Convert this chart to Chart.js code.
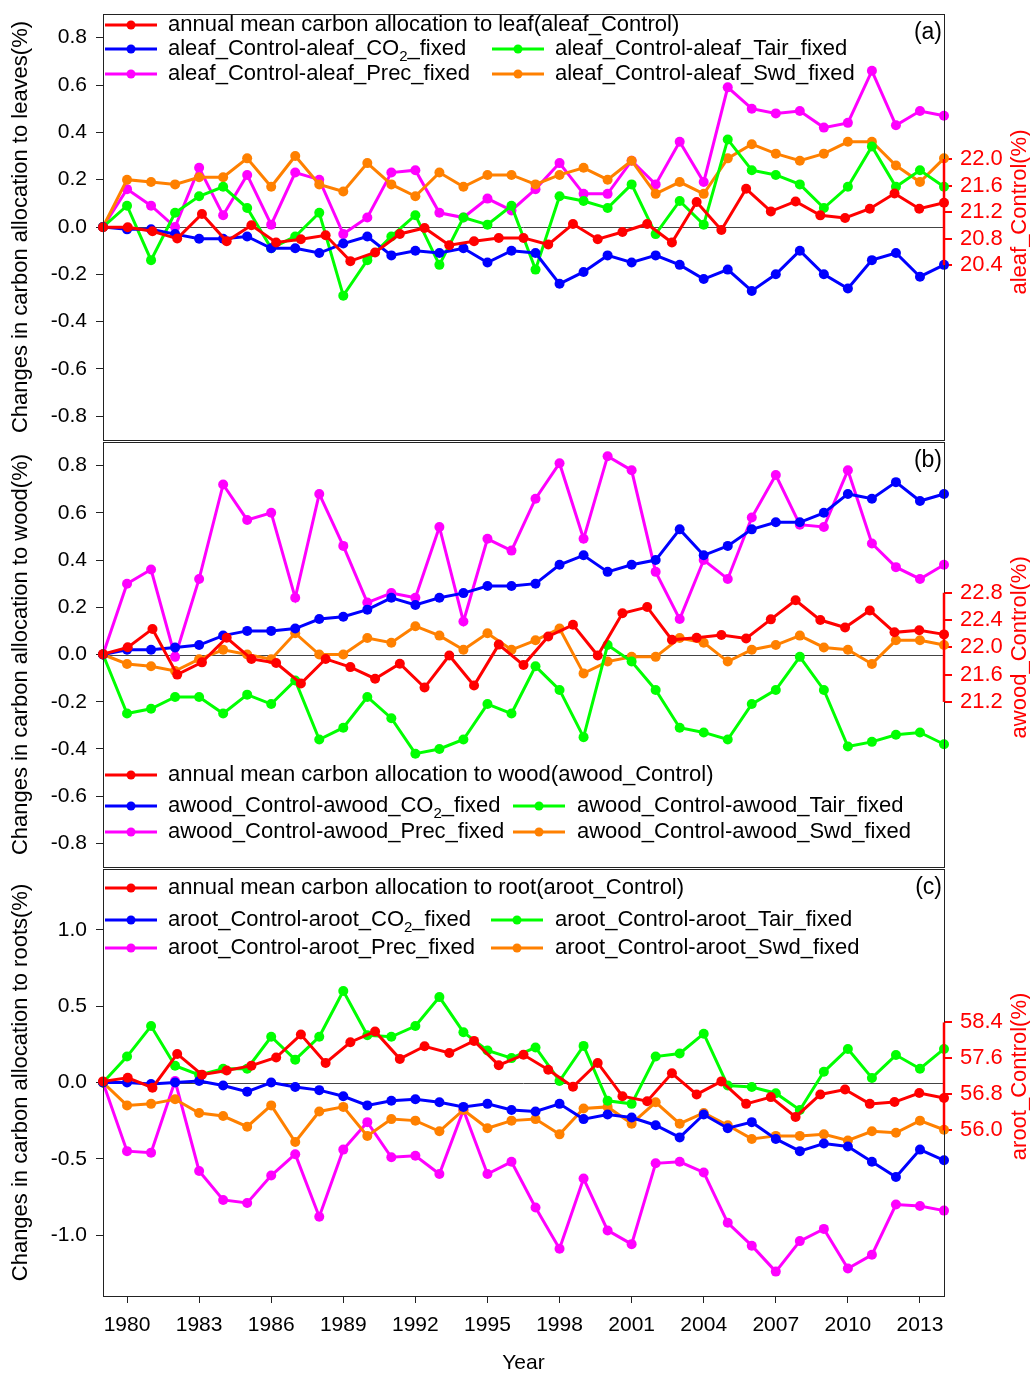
<!DOCTYPE html>
<html>
<head>
<meta charset="utf-8">
<script src="https://cdn.jsdelivr.net/npm/chart.js@4.4.1/dist/chart.umd.min.js"></script>
<style>
  html, body { margin: 0; padding: 0; background: #fff; }
  #wrap { position: relative; width: 1030px; height: 1374px; }
  canvas { position: absolute; left: 0; }
</style>
</head>
<body>
<div id="wrap">
  <canvas id="chartA" width="1030" height="445" style="top:0px"></canvas>
  <canvas id="chartB" width="1030" height="435" style="top:437px"></canvas>
  <canvas id="chartC" width="1030" height="510" style="top:864px"></canvas>
</div>
<script>
// Years: the difference series use 1979-2014, the control series has 35 values
var years = [];
for (var yy = 1979; yy <= 2014; yy++) years.push(yy);
var controlYears = [];
for (var yc = 1979; yc <= 2013; yc++) controlYears.push(yc);
var yearTicks = [1980, 1983, 1986, 1989, 1992, 1995, 1998, 2001, 2004, 2007, 2010, 2013];

// (a) leaf
var leafControl = [20.97, 20.97, 20.91, 20.80, 21.17, 20.76, 21.00, 20.74, 20.79, 20.85, 20.46, 20.59, 20.87, 20.96, 20.70, 20.76, 20.81, 20.81, 20.71, 21.02, 20.79, 20.90, 21.02, 20.74, 21.35, 20.93, 21.55, 21.21, 21.36, 21.15, 21.11, 21.25, 21.48, 21.25, 21.34];
var leafCO2 = [0, -0.01, -0.01, -0.03, -0.05, -0.05, -0.04, -0.09, -0.09, -0.11, -0.07, -0.04, -0.12, -0.10, -0.11, -0.09, -0.15, -0.10, -0.11, -0.24, -0.19, -0.12, -0.15, -0.12, -0.16, -0.22, -0.18, -0.27, -0.20, -0.10, -0.20, -0.26, -0.14, -0.11, -0.21, -0.16];
var leafTair = [0, 0.09, -0.14, 0.06, 0.13, 0.17, 0.08, -0.09, -0.04, 0.06, -0.29, -0.14, -0.04, 0.05, -0.16, 0.04, 0.01, 0.09, -0.18, 0.13, 0.11, 0.08, 0.18, -0.03, 0.11, 0.01, 0.37, 0.24, 0.22, 0.18, 0.08, 0.17, 0.34, 0.17, 0.24, 0.17];
var leafPrec = [0, 0.16, 0.09, 0.00, 0.25, 0.05, 0.22, 0.01, 0.23, 0.20, -0.03, 0.04, 0.23, 0.24, 0.06, 0.04, 0.12, 0.07, 0.16, 0.27, 0.14, 0.14, 0.28, 0.18, 0.36, 0.19, 0.59, 0.50, 0.48, 0.49, 0.42, 0.44, 0.66, 0.43, 0.49, 0.47];
var leafSwd = [0, 0.20, 0.19, 0.18, 0.21, 0.21, 0.29, 0.17, 0.30, 0.18, 0.15, 0.27, 0.18, 0.13, 0.23, 0.17, 0.22, 0.22, 0.18, 0.22, 0.25, 0.20, 0.28, 0.14, 0.19, 0.14, 0.29, 0.35, 0.31, 0.28, 0.31, 0.36, 0.36, 0.26, 0.19, 0.29];

// (b) wood
var woodControl = [21.90, 22.00, 22.27, 21.60, 21.78, 22.14, 21.83, 21.77, 21.47, 21.83, 21.71, 21.54, 21.76, 21.41, 21.88, 21.44, 22.04, 21.74, 22.16, 22.33, 21.88, 22.50, 22.59, 22.11, 22.14, 22.18, 22.13, 22.41, 22.69, 22.40, 22.29, 22.54, 22.22, 22.25, 22.19];
var woodCO2 = [0, 0.02, 0.02, 0.03, 0.04, 0.08, 0.10, 0.10, 0.11, 0.15, 0.16, 0.19, 0.24, 0.21, 0.24, 0.26, 0.29, 0.29, 0.30, 0.38, 0.42, 0.35, 0.38, 0.40, 0.53, 0.42, 0.46, 0.53, 0.56, 0.56, 0.60, 0.68, 0.66, 0.73, 0.65, 0.68];
var woodTair = [0, -0.25, -0.23, -0.18, -0.18, -0.25, -0.17, -0.21, -0.11, -0.36, -0.31, -0.18, -0.27, -0.42, -0.40, -0.36, -0.21, -0.25, -0.05, -0.15, -0.35, 0.04, -0.03, -0.15, -0.31, -0.33, -0.36, -0.21, -0.15, -0.01, -0.15, -0.39, -0.37, -0.34, -0.33, -0.38];
var woodPrec = [0, 0.30, 0.36, -0.01, 0.32, 0.72, 0.57, 0.60, 0.24, 0.68, 0.46, 0.22, 0.26, 0.24, 0.54, 0.14, 0.49, 0.44, 0.66, 0.81, 0.49, 0.84, 0.78, 0.35, 0.15, 0.40, 0.32, 0.58, 0.76, 0.55, 0.54, 0.78, 0.47, 0.37, 0.32, 0.38];
var woodSwd = [0, -0.04, -0.05, -0.07, -0.02, 0.02, 0.00, -0.02, 0.09, 0.00, 0.00, 0.07, 0.05, 0.12, 0.08, 0.02, 0.09, 0.02, 0.06, 0.11, -0.08, -0.03, -0.01, -0.01, 0.07, 0.05, -0.03, 0.02, 0.04, 0.08, 0.03, 0.02, -0.04, 0.06, 0.06, 0.04];

// (c) root
var rootControl = [57.09, 57.17, 56.95, 57.70, 57.24, 57.33, 57.44, 57.62, 58.13, 57.50, 57.96, 58.20, 57.59, 57.87, 57.72, 57.99, 57.45, 57.68, 57.35, 56.97, 57.50, 56.76, 56.65, 57.27, 56.80, 57.09, 56.59, 56.74, 56.30, 56.80, 56.91, 56.59, 56.63, 56.83, 56.72];
var rootCO2 = [0, 0.00, -0.01, 0.00, 0.01, -0.02, -0.06, 0.00, -0.03, -0.05, -0.09, -0.15, -0.12, -0.11, -0.13, -0.16, -0.14, -0.18, -0.19, -0.14, -0.24, -0.21, -0.23, -0.28, -0.36, -0.21, -0.30, -0.26, -0.37, -0.45, -0.40, -0.42, -0.52, -0.62, -0.44, -0.51];
var rootTair = [0, 0.17, 0.37, 0.11, 0.05, 0.09, 0.09, 0.30, 0.15, 0.30, 0.60, 0.31, 0.30, 0.37, 0.56, 0.33, 0.21, 0.16, 0.23, 0.01, 0.24, -0.12, -0.14, 0.17, 0.19, 0.32, -0.02, -0.03, -0.07, -0.18, 0.07, 0.22, 0.03, 0.18, 0.09, 0.22];
var rootPrec = [0, -0.45, -0.46, 0.01, -0.58, -0.77, -0.79, -0.61, -0.47, -0.88, -0.44, -0.26, -0.49, -0.48, -0.60, -0.18, -0.60, -0.52, -0.82, -1.09, -0.63, -0.97, -1.06, -0.53, -0.52, -0.59, -0.92, -1.07, -1.24, -1.04, -0.96, -1.22, -1.13, -0.80, -0.81, -0.84];
var rootSwd = [0, -0.15, -0.14, -0.11, -0.20, -0.22, -0.29, -0.15, -0.39, -0.19, -0.16, -0.35, -0.24, -0.25, -0.32, -0.18, -0.30, -0.25, -0.24, -0.34, -0.17, -0.16, -0.27, -0.13, -0.27, -0.20, -0.28, -0.37, -0.35, -0.35, -0.34, -0.38, -0.32, -0.33, -0.25, -0.31];

// tick labels
var leftTicksAB = [-0.8, -0.6, -0.4, -0.2, 0.0, 0.2, 0.4, 0.6, 0.8];
var leftTicksC = [-1.0, -0.5, 0.0, 0.5, 1.0];
var rightTicksA = [20.4, 20.8, 21.2, 21.6, 22.0];
var rightTicksB = [21.2, 21.6, 22.0, 22.4, 22.8];
var rightTicksC = [56.0, 56.8, 57.6, 58.4];

var RED = '#ff0000', BLUE = '#0000ff', GREEN = '#00ff00', MAGENTA = '#ff00ff', ORANGE = '#ff8000';
var FAMILY = '"Liberation Sans", Arial, sans-serif';
Chart.defaults.font.family = FAMILY;

function pts(xs, vals) {
  return vals.map(function(v, i) { return { x: xs[i], y: v }; });
}

function series(label, xs, vals, color, xAxis, yAxis) {
  return {
    label: label,
    data: pts(xs, vals),
    borderColor: color,
    backgroundColor: color,
    borderWidth: 3,
    pointRadius: 5,
    pointBorderWidth: 0,
    pointBackgroundColor: color,
    tension: 0,
    clip: false,
    xAxisID: xAxis,
    yAxisID: yAxis
  };
}

function drawLabel(ctx, text, x, y) {
  var parts = text.split(/\{(\d+)\}/);
  ctx.fillStyle = '#000';
  ctx.textAlign = 'left';
  ctx.textBaseline = 'middle';
  parts.forEach(function(p, i) {
    if (i % 2) {
      ctx.font = '15px ' + FAMILY;
      ctx.fillText(p, x, y + 8);
    } else {
      ctx.font = '22px ' + FAMILY;
      ctx.fillText(p, x, y);
    }
    x += ctx.measureText(p).width;
  });
}

// frame, zero line, red right axis, legend and panel tag
var panelDeco = {
  id: 'panelDeco',
  beforeDatasetsDraw: function(chart) {
    var ctx = chart.ctx, a = chart.chartArea;
    var z = Math.round(chart.scales.y.getPixelForValue(0)) + 0.5;
    ctx.save();
    ctx.strokeStyle = '#444';
    ctx.lineWidth = 1;
    ctx.beginPath();
    ctx.moveTo(a.left, z);
    ctx.lineTo(a.right, z);
    ctx.stroke();
    ctx.restore();
  },
  afterDraw: function(chart, args, o) {
    var ctx = chart.ctx, a = chart.chartArea, yr = chart.scales.yr;
    ctx.save();
    ctx.strokeStyle = '#222';
    ctx.lineWidth = 1;
    ctx.strokeRect(a.left + 0.5, a.top + 0.5, a.right - a.left, a.bottom - a.top);

    var t0 = yr.getPixelForValue(o.rightTicks[0]);
    var t1 = yr.getPixelForValue(o.rightTicks[o.rightTicks.length - 1]);
    ctx.strokeStyle = RED;
    ctx.lineWidth = 2.5;
    ctx.beginPath();
    ctx.moveTo(a.right, t0);
    ctx.lineTo(a.right, t1);
    ctx.stroke();

    ctx.save();
    ctx.translate(1020, (t0 + t1) / 2);
    ctx.rotate(-Math.PI / 2);
    ctx.fillStyle = RED;
    ctx.font = '22px ' + FAMILY;
    ctx.textAlign = 'center';
    ctx.textBaseline = 'middle';
    ctx.fillText(o.rightTitle, 0, 0);
    ctx.restore();

    var ds = chart.data.datasets;
    o.legend.forEach(function(it) {
      var d = ds[it.ds], y = a.top + it.dy;
      ctx.strokeStyle = d.borderColor;
      ctx.lineWidth = 3;
      ctx.beginPath();
      ctx.moveTo(it.x, y);
      ctx.lineTo(it.x + 52, y);
      ctx.stroke();
      ctx.fillStyle = d.borderColor;
      ctx.beginPath();
      ctx.arc(it.x + 26, y, 4.5, 0, Math.PI * 2);
      ctx.fill();
      drawLabel(ctx, d.label, it.tx, y);
    });

    ctx.fillStyle = '#000';
    ctx.font = '23px ' + FAMILY;
    ctx.textAlign = 'right';
    ctx.textBaseline = 'middle';
    ctx.fillText(o.tag, a.right - 2, a.top + 19);
    ctx.restore();
  }
};

function tickSetter(list) {
  return function(s) { s.ticks = list.map(function(v) { return { value: v }; }); };
}

// fixed axis sizes, and no extra room for tick labels at the ends
function fixSize(w, h) {
  return function(s) {
    if (w !== null) s.width = w;
    if (h !== null) s.height = h;
    s.paddingTop = 0;
    s.paddingBottom = 0;
    s.paddingLeft = 0;
    s.paddingRight = 0;
  };
}

function makeScales(showX, leftMin, leftMax, leftTicks, leftTitle, rMin, rMax, rTicks) {
  return {
    x: {
      type: 'linear', min: 1979, max: 2014, display: showX,
      afterBuildTicks: tickSetter(yearTicks),
      afterFit: fixSize(null, showX ? 78 : 0),
      grid: { drawOnChartArea: false, tickLength: 7, color: '#222' },
      border: { display: false },
      ticks: { color: '#000', font: { size: 21 }, padding: 10, maxRotation: 0, autoSkip: false,
               callback: function(v) { return String(v); } },
      title: { display: true, text: 'Year', color: '#000', font: { size: 21, lineHeight: 1 }, padding: 0 }
    },
    x2: { type: 'linear', min: 1979, max: 2013, display: false },
    y: {
      position: 'left', min: leftMin, max: leftMax,
      afterBuildTicks: tickSetter(leftTicks),
      afterFit: fixSize(103, null),
      grid: { drawOnChartArea: false, tickLength: 7, color: '#222' },
      border: { display: false },
      ticks: { color: '#000', font: { size: 21 }, padding: 9,
               callback: function(v) { return v.toFixed(1); } },
      title: { display: true, text: leftTitle, color: '#000', font: { size: 22, lineHeight: 1 }, padding: { top: 10, bottom: 0 } }
    },
    yr: {
      position: 'right', min: rMin, max: rMax,
      afterBuildTicks: tickSetter(rTicks),
      afterFit: fixSize(86, null),
      grid: { drawOnChartArea: false, tickLength: 8, color: RED, lineWidth: 2 },
      border: { display: false },
      ticks: { color: RED, font: { size: 22 }, padding: 8,
               callback: function(v) { return v.toFixed(1); } }
    }
  };
}

function makeChart(id, datasets, scales, padding, deco) {
  return new Chart(document.getElementById(id).getContext('2d'), {
    type: 'line',
    data: { datasets: datasets },
    options: {
      responsive: false,
      animation: false,
      layout: { padding: padding },
      scales: scales,
      plugins: { legend: { display: false }, tooltip: { enabled: false }, panelDeco: deco }
    },
    plugins: [panelDeco]
  });
}

makeChart('chartA', [
  series('annual mean carbon allocation to leaf(aleaf_Control)', controlYears, leafControl, RED, 'x2', 'yr'),
  series('aleaf_Control-aleaf_CO{2}_fixed', years, leafCO2, BLUE, 'x', 'y'),
  series('aleaf_Control-aleaf_Tair_fixed', years, leafTair, GREEN, 'x', 'y'),
  series('aleaf_Control-aleaf_Swd_fixed', years, leafSwd, ORANGE, 'x', 'y'),
  series('aleaf_Control-aleaf_Prec_fixed', years, leafPrec, MAGENTA, 'x', 'y')
], makeScales(false, -0.9, 0.9, leftTicksAB, 'Changes in carbon allocation to leaves(%)', 17.764, 24.185, rightTicksA),
{ top: 14, bottom: 4, left: 0, right: 0 },
{ tag: '(a)', rightTitle: 'aleaf_Control(%)', rightTicks: rightTicksA, legend: [
  { ds: 0, x: 105, tx: 168, dy: 11 },
  { ds: 1, x: 105, tx: 168, dy: 35 },
  { ds: 2, x: 492, tx: 555, dy: 35 },
  { ds: 4, x: 105, tx: 168, dy: 60 },
  { ds: 3, x: 492, tx: 555, dy: 60 }
] });

makeChart('chartB', [
  series('annual mean carbon allocation to wood(awood_Control)', controlYears, woodControl, RED, 'x2', 'yr'),
  series('awood_Control-awood_CO{2}_fixed', years, woodCO2, BLUE, 'x', 'y'),
  series('awood_Control-awood_Tair_fixed', years, woodTair, GREEN, 'x', 'y'),
  series('awood_Control-awood_Swd_fixed', years, woodSwd, ORANGE, 'x', 'y'),
  series('awood_Control-awood_Prec_fixed', years, woodPrec, MAGENTA, 'x', 'y')
], makeScales(false, -0.9, 0.9, leftTicksAB, 'Changes in carbon allocation to wood(%)', 18.78, 25.01, rightTicksB),
{ top: 4, bottom: 4, left: 0, right: 0 },
{ tag: '(b)', rightTitle: 'awood_Control(%)', rightTicks: rightTicksB, legend: [
  { ds: 0, x: 105, tx: 168, dy: 333 },
  { ds: 1, x: 105, tx: 168, dy: 364 },
  { ds: 2, x: 513, tx: 577, dy: 364 },
  { ds: 4, x: 105, tx: 168, dy: 390 },
  { ds: 3, x: 513, tx: 577, dy: 390 }
] });

makeChart('chartC', [
  series('annual mean carbon allocation to root(aroot_Control)', controlYears, rootControl, RED, 'x2', 'yr'),
  series('aroot_Control-aroot_CO{2}_fixed', years, rootCO2, BLUE, 'x', 'y'),
  series('aroot_Control-aroot_Tair_fixed', years, rootTair, GREEN, 'x', 'y'),
  series('aroot_Control-aroot_Swd_fixed', years, rootSwd, ORANGE, 'x', 'y'),
  series('aroot_Control-aroot_Prec_fixed', years, rootPrec, MAGENTA, 'x', 'y')
], makeScales(true, -1.4, 1.4, leftTicksC, 'Changes in carbon allocation to roots(%)', 52.32, 61.81, rightTicksC),
{ top: 4, bottom: 0, left: 0, right: 0 },
{ tag: '(c)', rightTitle: 'aroot_Control(%)', rightTicks: rightTicksC, legend: [
  { ds: 0, x: 105, tx: 168, dy: 19 },
  { ds: 1, x: 105, tx: 168, dy: 51 },
  { ds: 2, x: 491, tx: 555, dy: 51 },
  { ds: 4, x: 105, tx: 168, dy: 79 },
  { ds: 3, x: 491, tx: 555, dy: 79 }
] });
</script>
</body>
</html>
